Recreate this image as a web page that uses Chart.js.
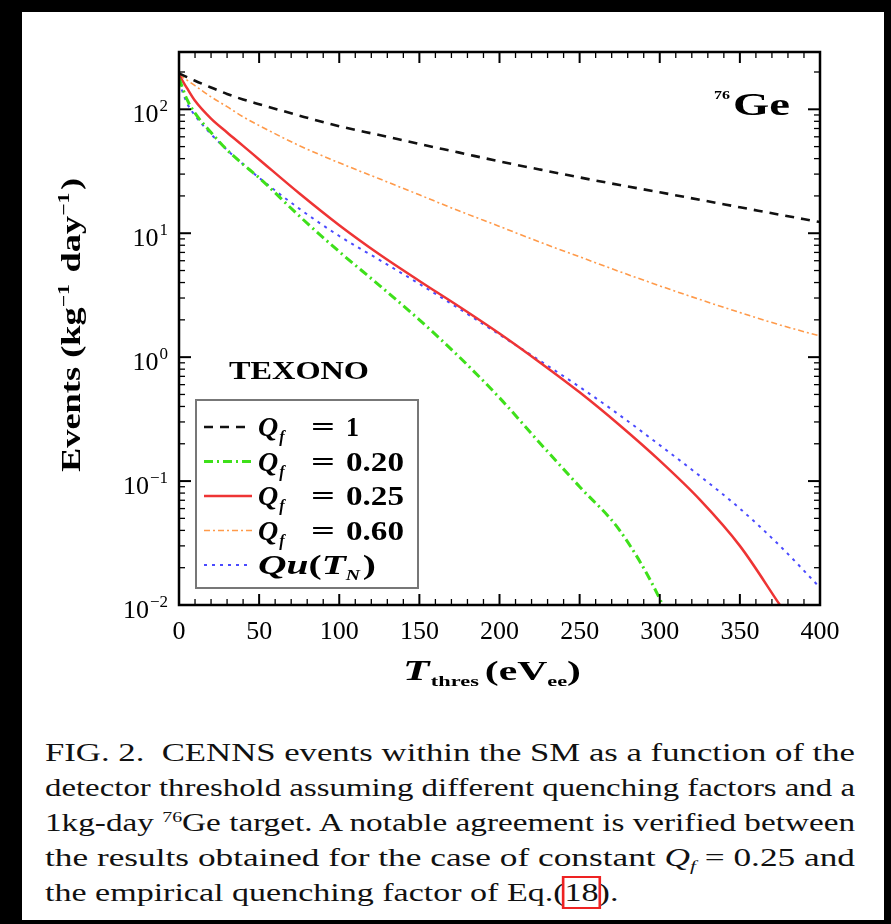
<!DOCTYPE html>
<html><head><meta charset="utf-8">
<script src="https://cdn.jsdelivr.net/npm/chart.js@4/dist/chart.umd.min.js"></script>
<style>
html,body{margin:0;padding:0;background:#000;width:891px;height:924px;overflow:hidden}
#page{position:absolute;left:22px;top:12px;width:862px;height:908px;background:#fff}
#c{position:absolute;left:0;top:0}
#cap{position:absolute;left:45px;top:735px;width:810px;font-family:"Liberation Serif",serif;font-size:26px;line-height:35px;color:#111}
#cap .l{white-space:nowrap;height:35px}
#cap .l span.t{display:inline-block;transform-origin:0 50%}
#cap sup{font-size:60%;line-height:0;vertical-align:0.55em}
#cap sub{font-size:60%;line-height:0;vertical-align:-0.3em}
#cap .box{outline:2px solid #e22;outline-offset:0px}
</style>
</head><body>
<div id="page"></div>
<canvas id="c" width="891" height="720"></canvas>
<div id="cap">
<div class="l"><span class="t">FIG. 2.&nbsp; CENNS events within the SM as a function of the</span></div>
<div class="l"><span class="t">detector threshold assuming different quenching factors and a</span></div>
<div class="l"><span class="t">1kg-day <sup>76</sup>Ge target. A notable agreement is verified between</span></div>
<div class="l"><span class="t">the results obtained for the case of constant <i>Q<sub>f</sub></i> = 0.25 and</span></div>
<div class="l"><span class="t last">the empirical quenching factor of Eq.(<span class="box">18</span>).</span></div>
</div>
<script>
// ---- data ----
const thresholds = [0,5,10,20,30,40,50,75,100,125,150,175,200,225,250,275,300,325,350,375,400]; // T_thres (eV_ee)
const qf100 = [195,182,170,150,133,120,110,89,73,62,52.5,44.7,38,32.7,28.2,24.5,21.4,18.6,16.2,14.1,12.3];
const qf020 = [178,120,93,65,47,36,28,13.8,7.1,3.8,2.0,1.0,0.47,0.204,0.090,0.040,0.0112,0.0018,null,null,null];
const qf025 = [190,148,117,84,65,50.7,39.4,21,11.6,6.76,4.12,2.55,1.55,0.91,0.52,0.282,0.146,0.0708,0.030,0.0100,null];
const qf060 = [190,172,155,126,105,87,74,51,37,27.5,20.4,15.1,11.35,8.5,6.45,4.9,3.76,2.92,2.29,1.82,1.48];
const quTN  = [166,112,89,63,47,36,28,15.8,9.5,6.1,3.9,2.45,1.52,0.94,0.575,0.34,0.195,0.11,0.060,0.030,0.0138];
const seriesLabels = ['Q_f = 1','Q_f = 0.20','Q_f = 0.25','Q_f = 0.60','Qu(T_N)'];
const xTicks = [0,50,100,150,200,250,300,350,400];
const yTicks = [0.01,0.1,1,10,100];

const SERIF = '"Liberation Serif", "Times New Roman", serif';
const pts = arr => thresholds.map((t,i)=>({x:t,y:arr[i]}));

function drawRuns(ctx, runs, x, y, targetW){
  let w=0;
  for(const r of runs){ctx.font=r.f; w+=ctx.measureText(r.t).width+(r.gap||0);}
  const s = targetW ? targetW/w : 1;
  ctx.save(); ctx.translate(x,y); ctx.scale(s,1);
  let cx=0;
  for(const r of runs){ctx.font=r.f; ctx.fillText(r.t,cx,r.dy||0); cx+=ctx.measureText(r.t).width+(r.gap||0);}
  ctx.restore();
  return w*s;
}

const deco = {
  id:'deco',
  afterDatasetsDraw(chart){
    const ctx=chart.ctx, a=chart.chartArea, xs=chart.scales.x, ys=chart.scales.y;
    ctx.save();
    ctx.fillStyle='#000'; ctx.strokeStyle='#000'; ctx.textBaseline='alphabetic'; ctx.textAlign='left';
    const seg=(x1,y1,x2,y2,w)=>{ctx.lineWidth=w;ctx.beginPath();ctx.moveTo(x1,y1);ctx.lineTo(x2,y2);ctx.stroke();};
    for(let v=0; v<=400; v+=10){
      const px=xs.getPixelForValue(v); const maj=v%50===0; const L=maj?11:6;
      seg(px,a.bottom,px,a.bottom-L,maj?2:1.3); seg(px,a.top,px,a.top+L,maj?2:1.3);
    }
    for(let e=-2;e<=2;e++) for(let k=1;k<=9;k++){
      const v=k*Math.pow(10,e); if(v<ys.min||v>ys.max) continue;
      const py=ys.getPixelForValue(v); const maj=k===1; const L=maj?12:6;
      seg(a.left,py,a.left+L,py,maj?2:1.3); seg(a.right,py,a.right-L,py,maj?2:1.3);
    }
    ctx.lineWidth=2.5; ctx.strokeRect(a.left,a.top,a.right-a.left,a.bottom-a.top);
    for(const t of ys.ticks){
      const py=ys.getPixelForValue(t.value);
      const ex=Math.round(Math.log10(t.value));
      const sup=(ex<0?'\u2212':'')+Math.abs(ex);
      ctx.font='17px '+SERIF; const sw=ctx.measureText(sup).width;
      ctx.font='26px '+SERIF; const bw=ctx.measureText('10').width;
      const right=168;
      ctx.font='26px '+SERIF; ctx.fillText('10', right-sw-bw-1, py+13);
      ctx.font='17px '+SERIF; ctx.fillText(sup, right-sw, py+2);
    }
    ctx.save(); ctx.translate(80,325); ctx.rotate(-Math.PI/2);
    const yr=[{t:'Events (kg',f:'bold 27px '+SERIF},{t:'\u22121',f:'bold 16px '+SERIF,dy:-11,gap:2},{t:' day',f:'bold 27px '+SERIF},{t:'\u22121',f:'bold 16px '+SERIF,dy:-11,gap:2},{t:')',f:'bold 27px '+SERIF}];
    drawRuns(ctx,yr,-147,0,294);
    ctx.restore();
    const xr=[{t:'T',f:'bold italic 29px '+SERIF,gap:1},{t:'thres',f:'bold 15px '+SERIF,dy:6,gap:4},{t:'(eV',f:'bold 28px '+SERIF},{t:'ee',f:'bold 15px '+SERIF,dy:6},{t:')',f:'bold 28px '+SERIF}];
    drawRuns(ctx,xr,403,680,178);
    drawRuns(ctx,[{t:'TEXONO',f:'bold 25px '+SERIF}],229,379,140);
    drawRuns(ctx,[{t:'76',f:'bold 13px '+SERIF}],714,99,16);
    drawRuns(ctx,[{t:'Ge',f:'bold 32px '+SERIF}],733,115,57);
    const lx=196, ly=400, lw=222, lh=188;
    ctx.fillStyle='#fff'; ctx.fillRect(lx,ly,lw,lh);
    ctx.strokeStyle='#777'; ctx.lineWidth=2; ctx.strokeRect(lx,ly,lw,lh);
    const vals=['1','0.20','0.25','0.60'];
    chart.data.datasets.forEach((ds,i)=>{
      const cy=427+i*34.5;
      ctx.save(); ctx.strokeStyle=ds.borderColor; ctx.lineWidth=ds.borderWidth; ctx.setLineDash(ds.borderDash||[]);
      ctx.beginPath(); ctx.moveTo(204,cy); ctx.lineTo(252,cy); ctx.stroke(); ctx.restore();
      ctx.fillStyle='#000';
      const base=cy+9;
      if(i<4){
        ctx.font='bold italic 28px '+SERIF; ctx.fillText('Q',258,base);
        const qw=ctx.measureText('Q').width;
        ctx.font='bold italic 16px '+SERIF; ctx.fillText('f',258+qw+1,base+6);
        drawRuns(ctx,[{t:'=',f:'bold 28px '+SERIF}],311,base,24);
        drawRuns(ctx,[{t:vals[i],f:'bold 28px '+SERIF}],346,base,i===0?13:58);
      } else {
        drawRuns(ctx,[{t:'Qu',f:'bold italic 28px '+SERIF},{t:'(',f:'bold 28px '+SERIF},{t:'T',f:'bold italic 28px '+SERIF},{t:'N',f:'bold italic 14px '+SERIF,dy:6,gap:2},{t:')',f:'bold 28px '+SERIF}],258,base,118);
      }
    });
    ctx.restore();
  }
};

new Chart(document.getElementById('c'),{
  type:'line',
  data:{datasets:[
    {label:seriesLabels[0],data:pts(qf100),borderColor:'#111',borderWidth:2.6,borderDash:[9,7]},
    {label:seriesLabels[1],data:pts(qf020),borderColor:'#3ee01a',borderWidth:3,borderDash:[9,4,2,4]},
    {label:seriesLabels[2],data:pts(qf025),borderColor:'#ee3434',borderWidth:2.5,borderDash:[]},
    {label:seriesLabels[3],data:pts(qf060),borderColor:'#ff9a4a',borderWidth:1.6,borderDash:[6,3,2,3]},
    {label:seriesLabels[4],data:pts(quTN),borderColor:'#4a4aff',borderWidth:2,borderDash:[3,5]}
  ]},
  options:{
    responsive:false, animation:false, devicePixelRatio:1,
    layout:{padding:{top:52,right:71,left:0,bottom:0}},
    elements:{point:{radius:0},line:{cubicInterpolationMode:'monotone',fill:false}},
    plugins:{legend:{display:false},tooltip:{enabled:false}},
    scales:{
      x:{type:'linear',min:0,max:400,
        grid:{display:false,drawTicks:false},border:{display:false},
        ticks:{font:{family:SERIF,size:26},color:'#000',padding:12,autoSkip:false,maxRotation:0},
        afterBuildTicks(s){s.ticks=xTicks.map(v=>({value:v}));},
        afterFit(s){s.height=115;}},
      y:{type:'logarithmic',min:0.01,max:290,
        grid:{display:false,drawTicks:false},border:{display:false},
        ticks:{display:false},
        afterBuildTicks(s){s.ticks=yTicks.map(v=>({value:v}));},
        afterFit(s){s.width=179;}}
    }
  },
  plugins:[deco]
});

// stretch caption lines horizontally to the column width (justified look)
(function(){
  const spans=[...document.querySelectorAll('#cap span.t')];
  let sum=0,n=0;
  spans.forEach(s=>{ if(!s.classList.contains('last')){ const sc=810/s.getBoundingClientRect().width; s.style.transform='scaleX('+sc+')'; sum+=sc; n++; } });
  const avg=sum/n;
  spans.forEach(s=>{ if(s.classList.contains('last')) s.style.transform='scaleX('+avg+')'; });
})();
</script>
</body></html>
